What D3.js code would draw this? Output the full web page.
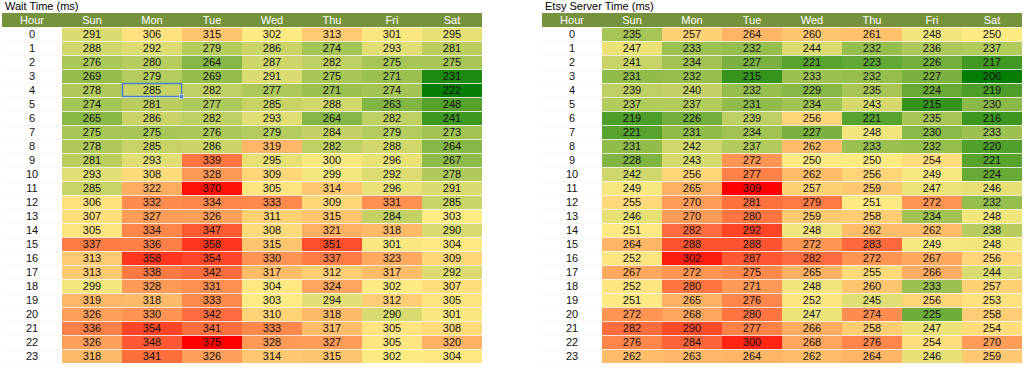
<!DOCTYPE html>
<html>
<head>
    <meta charset="utf-8" />
    <title>Wait Time / Etsy Server Time heatmaps</title>
    <style>
        body { margin: 0; background: #ffffff; }
        text { font-family: "Liberation Sans", Arial, sans-serif; }
        .title { font-size: 11px; fill: #000000; }
        .head { font-size: 11px; fill: #ffffff; }
        .cell-label, .hour-label { font-size: 11px; fill: #111111; }
    </style>
    <script src="https://cdn.jsdelivr.net/npm/d3@7"></script>
</head>
<body>
    <svg width="1024" height="370"></svg>

    <script>
        var days = ['Sun', 'Mon', 'Tue', 'Wed', 'Thu', 'Fri', 'Sat'];
        var hours = d3.range(24);

        // wait time, one row per hour, Sun..Sat
        var waitTime = [
            [291, 306, 315, 302, 313, 301, 295],
            [288, 292, 279, 286, 274, 293, 281],
            [276, 280, 264, 287, 282, 275, 275],
            [269, 279, 269, 291, 275, 271, 231],
            [278, 285, 282, 277, 271, 274, 222],
            [274, 281, 277, 285, 288, 263, 248],
            [265, 286, 282, 293, 264, 282, 241],
            [275, 275, 276, 279, 284, 279, 273],
            [278, 285, 286, 319, 282, 288, 264],
            [281, 293, 339, 295, 300, 296, 267],
            [293, 308, 328, 309, 299, 292, 278],
            [285, 322, 370, 305, 314, 296, 291],
            [306, 332, 334, 333, 309, 331, 285],
            [307, 327, 326, 311, 315, 284, 303],
            [305, 334, 347, 308, 321, 318, 290],
            [337, 336, 358, 315, 351, 301, 304],
            [313, 358, 354, 330, 337, 323, 309],
            [313, 338, 342, 317, 312, 317, 292],
            [299, 328, 331, 304, 324, 302, 307],
            [319, 318, 333, 303, 294, 312, 305],
            [326, 330, 342, 310, 318, 290, 301],
            [336, 354, 341, 333, 317, 305, 308],
            [326, 348, 375, 328, 327, 305, 320],
            [318, 341, 326, 314, 315, 302, 304]
        ];

        // etsy server time, one row per hour, Sun..Sat
        var serverTime = [
            [235, 257, 264, 260, 261, 248, 250],
            [247, 233, 232, 244, 232, 236, 237],
            [241, 234, 227, 221, 223, 226, 217],
            [231, 232, 215, 233, 232, 227, 206],
            [239, 240, 232, 229, 235, 224, 219],
            [237, 237, 231, 234, 243, 215, 230],
            [219, 226, 239, 256, 221, 235, 216],
            [221, 231, 234, 227, 248, 230, 233],
            [231, 242, 237, 262, 233, 232, 220],
            [228, 243, 272, 250, 250, 254, 221],
            [242, 256, 277, 262, 256, 249, 224],
            [249, 265, 309, 257, 259, 247, 246],
            [255, 270, 281, 279, 251, 272, 232],
            [246, 270, 280, 259, 258, 234, 248],
            [251, 282, 292, 248, 262, 262, 238],
            [264, 288, 288, 272, 283, 249, 248],
            [252, 302, 287, 282, 272, 267, 256],
            [267, 272, 275, 265, 255, 266, 244],
            [252, 280, 271, 248, 260, 233, 257],
            [251, 265, 276, 252, 245, 256, 253],
            [272, 268, 280, 247, 274, 225, 258],
            [282, 290, 277, 266, 258, 247, 254],
            [276, 284, 300, 268, 276, 254, 270],
            [262, 263, 264, 262, 264, 246, 259]
        ];

        var svg = d3.select('svg'),
            tableW = 480,
            headTop = 13,
            rowH = 14;

        var x = d3.scaleBand()
            .domain(['Hour'].concat(days))
            .range([0, tableW]);

        var y = d3.scaleBand()
            .domain(hours)
            .range([headTop + rowH, headTop + rowH + hours.length * rowH]);

        function drawTable(left, title, data, selected) {
            var g = svg.append('g')
                .attr('transform', 'translate(' + left + ',0)');

            var flat = d3.merge(data);
            var color = d3.scaleLinear()
                .domain([d3.min(flat), d3.quantile(flat.slice().sort(d3.ascending), 0.5), d3.max(flat)])
                .range(['#037e03', '#ffeb84', '#ff0000']);

            g.append('text')
                .attr('class', 'title')
                .attr('x', 3)
                .attr('y', 10)
                .text(title);

            // header
            g.append('rect')
                .attr('x', 0)
                .attr('y', headTop)
                .attr('width', tableW)
                .attr('height', rowH)
                .attr('fill', '#76923c');

            g.selectAll('.head')
                .data(x.domain())
                .enter().append('text')
                    .attr('class', 'head')
                    .attr('x', function(d) { return x(d) + x.bandwidth() / 2; })
                    .attr('y', headTop + rowH / 2)
                    .attr('dy', '0.36em')
                    .attr('text-anchor', 'middle')
                    .text(function(d) { return d; });

            var rows = g.selectAll('.row')
                .data(data)
                .enter().append('g')
                    .attr('class', 'row')
                    .attr('transform', function(d, i) { return 'translate(0,' + y(i) + ')'; });

            rows.selectAll('rect')
                .data(function(d) { return d; })
                .enter().append('rect')
                    .attr('x', function(d, j) { return x(days[j]); })
                    .attr('width', x.bandwidth())
                    .attr('height', y.bandwidth())
                    .attr('fill', color);

            rows.selectAll('.cell-label')
                .data(function(d) { return d; })
                .enter().append('text')
                    .attr('class', 'cell-label')
                    .attr('x', function(d, j) { return x(days[j]) + x.bandwidth() / 2; })
                    .attr('y', y.bandwidth() / 2)
                    .attr('dy', '0.36em')
                    .attr('text-anchor', 'middle')
                    .text(function(d) { return d; });

            rows.append('text')
                .attr('class', 'hour-label')
                .attr('x', x('Hour') + x.bandwidth() / 2)
                .attr('y', y.bandwidth() / 2)
                .attr('dy', '0.36em')
                .attr('text-anchor', 'middle')
                .text(function(d, i) { return hours[i]; });

            // faint row separators
            g.selectAll('.sep')
                .data(hours.concat([hours.length]))
                .enter().append('line')
                    .attr('x1', 0)
                    .attr('x2', tableW)
                    .attr('y1', function(d) { return headTop + rowH + d * rowH + 0.5; })
                    .attr('y2', function(d) { return headTop + rowH + d * rowH + 0.5; })
                    .attr('stroke', '#f6f6f2')
                    .attr('stroke-opacity', 0.85);

            if (selected) {
                var sx = x(days[selected[1]]), sy = y(selected[0]);
                g.append('rect')
                    .attr('x', sx + 0.5)
                    .attr('y', sy + 0.5)
                    .attr('width', x.bandwidth() - 1)
                    .attr('height', y.bandwidth() - 1)
                    .attr('fill', 'none')
                    .attr('stroke', '#4a7ec8')
                    .attr('stroke-width', 1.5);
                g.append('rect')
                    .attr('x', sx + x.bandwidth() - 2.5)
                    .attr('y', sy + y.bandwidth() - 2.5)
                    .attr('width', 4)
                    .attr('height', 4)
                    .attr('fill', '#4a7ec8')
                    .attr('stroke', '#ffffff')
                    .attr('stroke-width', 0.5);
            }
        }

        drawTable(2, 'Wait Time (ms)', waitTime, [4, 1]);
        drawTable(542, 'Etsy Server Time (ms)', serverTime, null);
    </script>
</body>
</html>
